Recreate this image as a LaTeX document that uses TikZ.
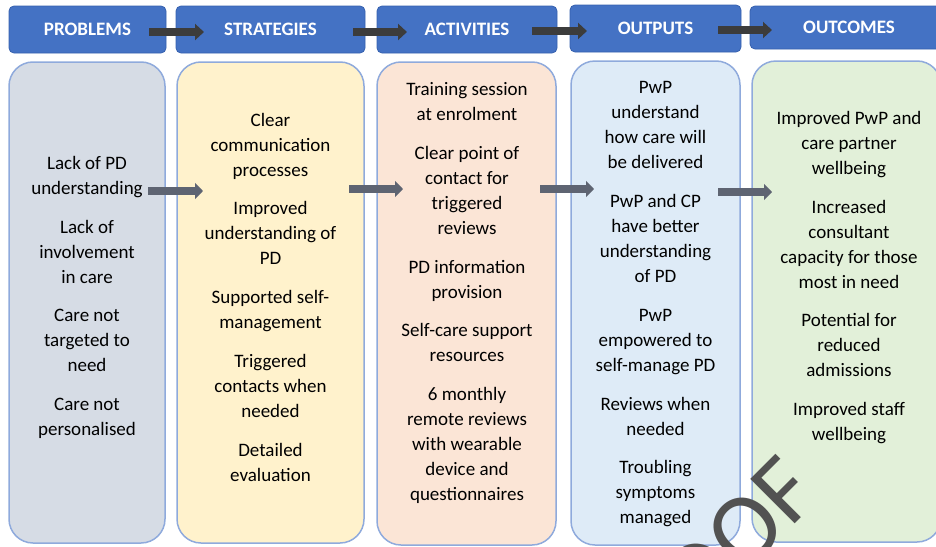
\documentclass[tikz,border=0pt]{standalone}
\usepackage{fontspec}
\setmainfont{Carlito}
\usetikzlibrary{arrows.meta}
\definecolor{hdrblue}{HTML}{4472C4}
\definecolor{hdrline}{HTML}{3560AE}
\definecolor{colline}{HTML}{8FAADC}
\definecolor{probfill}{HTML}{D6DCE5}
\definecolor{stratfill}{HTML}{FFF2CC}
\definecolor{actfill}{HTML}{FBE5D6}
\definecolor{outpfill}{HTML}{DEEBF7}
\definecolor{outcfill}{HTML}{E2F0D9}
\definecolor{hdrarrow}{HTML}{3C3C3C}
\definecolor{colarrow}{HTML}{5E6472}
\definecolor{wmgray}{HTML}{525252}

\begin{document}
\begin{tikzpicture}[x=1pt, y=-1pt,
	every node/.style={font=\fontsize{19}{25}\selectfont, align=center, inner sep=0pt},
	header/.style={rectangle, rounded corners=5pt, fill=hdrblue, draw=hdrline, line width=0.8pt, text=white, font=\bfseries\fontsize{19}{24}\selectfont},
	column/.style={rectangle, rounded corners=24pt, draw=colline, line width=1.5pt},
	harrow/.style={draw=hdrarrow, line width=8.5pt, -{Triangle[length=9pt, width=16pt]}},
	carrow/.style={draw=colarrow, line width=8pt, -{Triangle[length=8pt, width=16pt]}},
	watermark/.style={text=wmgray, font=\fontsize{98}{98}\selectfont, rotate=45, anchor=base east}]
			\useasboundingbox (0,0) rectangle (936,546);
			
			\node[header, minimum width=157, minimum height=47] (h1) at (87.5,29.5) {PROBLEMS};
			\node[header, minimum width=189, minimum height=47] (h2) at (270.5,29.5) {STRATEGIES};
			\node[header, minimum width=180, minimum height=47] (h3) at (467,29.5) {ACTIVITIES};
			\node[header, minimum width=171, minimum height=47] (h4) at (655.5,28.5) {OUTPUTS};
			\node[header, minimum width=198, minimum height=43] (h5) at (849,27.5) {OUTCOMES};
			
			\node[column, fill=probfill, minimum width=156, minimum height=481] (c1) at (87,302.5) {};
			\node[column, fill=stratfill, minimum width=187, minimum height=481] (c2) at (270.5,302.5) {};
			\node[column, fill=actfill, minimum width=179, minimum height=483] (c3) at (466.5,303.5) {};
			\node[column, fill=outpfill, minimum width=169, minimum height=484] (c4) at (655.5,303) {};
			\node[column, fill=outcfill, minimum width=189, minimum height=481] (c5) at (846.5,301.5) {};
			
			\node (t1) at (87,297.5) {Lack of PD\\understanding\\[13.75pt]Lack of\\involvement\\in care\\[13.75pt]Care not\\targeted to\\need\\[13.75pt]Care not\\personalised};
			\node (t2) at (270.5,297) {Clear\\communication\\processes\\[13.75pt]Improved\\understanding of\\PD\\[13.75pt]Supported self-\\management\\[13.75pt]Triggered\\contacts when\\needed\\[13.75pt]Detailed\\evaluation};
			\node (t3) at (467,293) {Training session\\at enrolment\\[13.75pt]Clear point of\\contact for\\triggered\\reviews\\[13.75pt]PD information\\provision\\[13.75pt]Self-care support\\resources\\[13.75pt]6 monthly\\remote reviews\\with wearable\\device and\\questionnaires};
			\node (t4) at (655.5,304.5) {PwP\\understand\\how care will\\be delivered\\[13.75pt]PwP and CP\\have better\\understanding\\of PD\\[13.75pt]PwP\\empowered to\\self-manage PD\\[13.75pt]Reviews when\\needed\\[13.75pt]Troubling\\symptoms\\managed};
			\node (t5) at (849,277.5) {Improved PwP and\\care partner\\wellbeing\\[13.75pt]Increased\\consultant\\capacity for those\\most in need\\[13.75pt]Potential for\\reduced\\admissions\\[13.75pt]Improved staff\\wellbeing};
			
			\coordinate (ha1) at (149,32);
			\coordinate (hb1) at (204,32);
			\coordinate (ha2) at (353,32);
			\coordinate (hb2) at (407,32);
			\coordinate (ha3) at (532,31);
			\coordinate (hb3) at (587,31);
			\coordinate (ha4) at (718,30);
			\coordinate (hb4) at (772,30);
			\coordinate (ca1) at (148,191);
			\coordinate (cb1) at (203,191);
			\coordinate (ca2) at (349,189);
			\coordinate (cb2) at (403,189);
			\coordinate (ca3) at (540,189);
			\coordinate (cb3) at (594,189);
			\coordinate (ca4) at (718,192);
			\coordinate (cb4) at (772,192);
			
			\path (ha1) edge[harrow] (hb1);
			\path (ha2) edge[harrow] (hb2);
			\path (ha3) edge[harrow] (hb3);
			\path (ha4) edge[harrow] (hb4);
			\path (ca1) edge[carrow] (cb1);
			\path (ca2) edge[carrow] (cb2);
			\path (ca3) edge[carrow] (cb3);
			\path (ca4) edge[carrow] (cb4);
			
			\node[watermark] (wm) at (822,497) {PROOF};
			\end{tikzpicture}
\end{document}
